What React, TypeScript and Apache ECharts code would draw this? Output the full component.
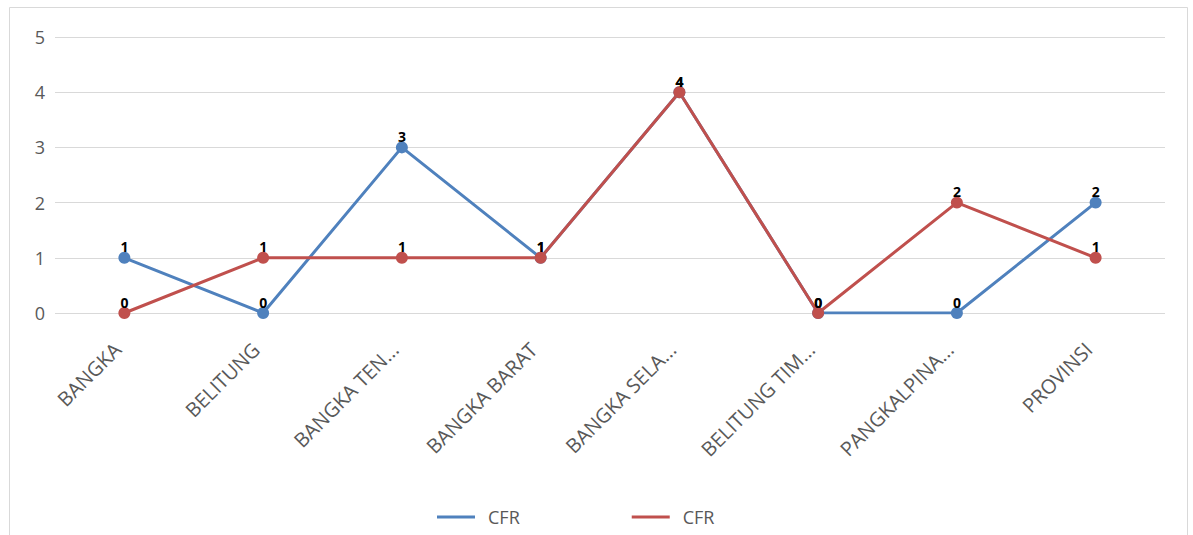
import React, { useEffect, useRef } from "react";
import * as echarts from "echarts";

const categories = [
  "BANGKA",
  "BELITUNG",
  "BANGKA TEN...",
  "BANGKA BARAT",
  "BANGKA SELA...",
  "BELITUNG TIM...",
  "PANGKALPINA...",
  "PROVINSI",
];
const seriesNames = ["CFR", "CFR"];
const blueValues = [1, 0, 3, 1, 4, 0, 0, 2];
const redValues = [0, 1, 1, 1, 4, 0, 2, 1];

export default function App() {
  const ref = useRef<HTMLDivElement>(null);
  useEffect(() => {
    if (!ref.current) return;
    const chart = echarts.init(ref.current, undefined, { renderer: "svg" });
    const mkSeries = (name: string, data: number[], color: string) => ({
      name,
      type: "line",
      data,
      symbol: "circle",
      symbolSize: 12,
      lineStyle: { color, width: 3 },
      itemStyle: { color },
      label: {
        show: true,
        position: "top",
        distance: -2,
        color: "#000",
        fontWeight: "bold",
        fontSize: 14,
        fontFamily: "Open Sans",
      },
    });
    const key0 = seriesNames[0] + "#1";
    const key1 = seriesNames[1] + "#2";
    chart.setOption({
      animation: false,
      backgroundColor: "#fff",
      graphic: [
        {
          type: "rect",
          left: 7,
          top: 5,
          shape: { width: 1178, height: 528 },
          style: { fill: "none", stroke: "#d9d9d9", lineWidth: 1 },
          silent: true,
        },
      ],
      grid: { left: 55, right: 28, top: 37, bottom: 222 },
      xAxis: {
        type: "category",
        data: categories,
        boundaryGap: true,
        axisLine: { show: false },
        axisTick: { show: false },
        axisLabel: {
          rotate: 45,
          interval: 0,
          color: "#595959",
          fontSize: 20,
          fontFamily: "Open Sans",
          margin: 26,
          padding: [0, 10, 0, 0],
        },
      },
      yAxis: {
        type: "value",
        min: 0,
        max: 5,
        interval: 1,
        axisLine: { show: false },
        axisTick: { show: false },
        axisLabel: { color: "#595959", fontSize: 18, fontFamily: "Open Sans", margin: 10 },
        splitLine: { lineStyle: { color: "#d9d9d9", width: 1 } },
      },
      legend: {
        bottom: 4,
        left: 432,
        itemGap: 112,
        itemWidth: 38,
        itemHeight: 3,
        icon: "rect",
        textStyle: { color: "#595959", fontSize: 18, fontFamily: "Open Sans", padding: [0, 0, 0, 8] },
        formatter: (n: string) => n.split("#")[0],
        data: [key0, key1],
      },
      series: [
        mkSeries(key0, blueValues, "#4F81BD"),
        mkSeries(key1, redValues, "#C0504D"),
      ],
    });
    return () => chart.dispose();
  }, []);
  return (
    <div
      ref={ref}
      style={{ position: "fixed", left: 0, top: 0, width: 1193, height: 535 }}
    />
  );
}
